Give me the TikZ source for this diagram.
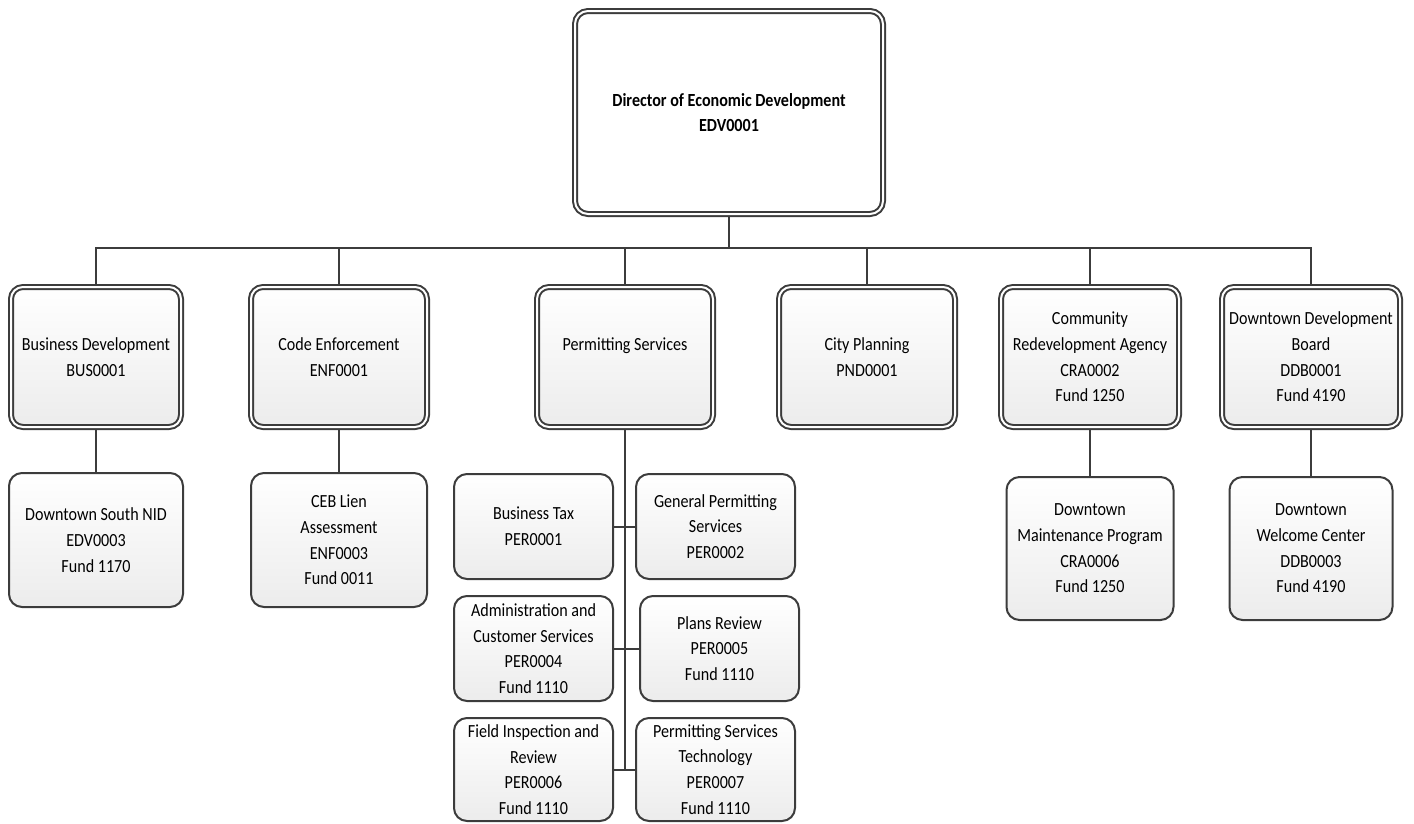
\documentclass[tikz,border=0pt]{standalone}
\usepackage{fontspec}
\setmainfont{Carlito}[FakeStretch=0.87]
\usetikzlibrary{backgrounds}
\definecolor{edge}{HTML}{3C3C3C}
\definecolor{shadebot}{HTML}{ECECEC}
\begin{document}
\begin{tikzpicture}[x=1pt,y=-1pt,
  every node/.style={font=\fontsize{18.5}{25.7}\selectfont, align=center, inner sep=0pt},
  unitbox/.style={draw=edge, line width=2pt, double=white, double distance=2pt,
    rounded corners=12pt, top color=white, bottom color=shadebot},
  headbox/.style={draw=edge, line width=2pt, double=white, double distance=2pt,
    rounded corners=13pt, fill=white},
  subbox/.style={draw=edge, line width=2pt, rounded corners=13pt,
    top color=white, bottom color=shadebot},
  link/.style={draw=edge, line width=2pt}]
\useasboundingbox (0,0) rectangle (1414,823);

% director
\node[headbox, minimum width=308pt, minimum height=203pt] (dir) at (729,112.5)
  {\bfseries Director of Economic Development\\\bfseries EDV0001};

% divisions
\node[unitbox, minimum width=170pt, minimum height=140pt] (bus) at (96,357)
  {Business Development\\BUS0001};
\node[unitbox, minimum width=176pt, minimum height=140pt] (enf) at (339,357)
  {Code Enforcement\\ENF0001};
\node[unitbox, minimum width=176pt, minimum height=140pt] (per) at (625,357)
  {Permitting Services\\\mbox{}};
\node[unitbox, minimum width=176pt, minimum height=140pt] (pnd) at (867,357)
  {City Planning\\PND0001};
\node[unitbox, minimum width=178pt, minimum height=140pt] (cra) at (1090,357)
  {Community\\Redevelopment Agency\\CRA0002\\Fund 1250};
\node[unitbox, minimum width=178pt, minimum height=140pt] (ddb) at (1311,357)
  {Downtown Development\\Board\\DDB0001\\Fund 4190};

% sections
\node[subbox, minimum width=174pt, minimum height=134pt] (nid) at (96,540)
  {Downtown South NID\\EDV0003\\Fund 1170};
\node[subbox, minimum width=176pt, minimum height=134pt] (ceb) at (339,540)
  {CEB Lien\\Assessment\\ENF0003\\Fund 0011};
\node[subbox, minimum width=167pt, minimum height=143pt] (dmp) at (1090,548.5)
  {Downtown\\Maintenance Program\\CRA0006\\Fund 1250};
\node[subbox, minimum width=163pt, minimum height=143pt] (dwc) at (1311,548.5)
  {Downtown\\Welcome Center\\DDB0003\\Fund 4190};

% permitting sections
\node[subbox, minimum width=159pt, minimum height=105pt] (p1) at (533.5,526.5)
  {Business Tax\\PER0001};
\node[subbox, minimum width=159pt, minimum height=105pt] (p2) at (715.5,526.5)
  {General Permitting\\Services\\PER0002};
\node[subbox, minimum width=159pt, minimum height=105pt] (p4) at (533.5,648.5)
  {Administration and\\Customer Services\\PER0004\\Fund 1110};
\node[subbox, minimum width=159pt, minimum height=105pt] (p5) at (719.5,648.5)
  {Plans Review\\PER0005\\Fund 1110};
\node[subbox, minimum width=159pt, minimum height=103pt] (p6) at (533.5,769.5)
  {Field Inspection and\\Review\\PER0006\\Fund 1110};
\node[subbox, minimum width=159pt, minimum height=103pt] (p7) at (715.5,769.5)
  {Permitting Services\\Technology\\PER0007\\Fund 1110};

\coordinate (busline) at (729,248);

\begin{pgfonlayer}{background}
  % director to divisions
  \draw[link] (dir.south) -- (busline);
  \draw[link] (bus.north) -- (bus.north |- busline) -- (ddb.north |- busline) -- (ddb.north);
  \foreach \n in {enf,per,pnd,cra}
    \draw[link] (\n.north) -- (\n.north |- busline);
  % divisions to sections
  \draw[link] (bus.south) -- (nid.north);
  \draw[link] (enf.south) -- (ceb.north);
  \draw[link] (cra.south) -- (dmp.north);
  \draw[link] (ddb.south) -- (dwc.north);
  % permitting spine
  \draw[link] (per.south) -- (per.south |- p6.east);
  \draw[link] (p1.east) -- (p2.west);
  \draw[link] (p4.east) -- (p5.west);
  \draw[link] (p6.east) -- (p7.west);
\end{pgfonlayer}
\end{tikzpicture}
\end{document}
